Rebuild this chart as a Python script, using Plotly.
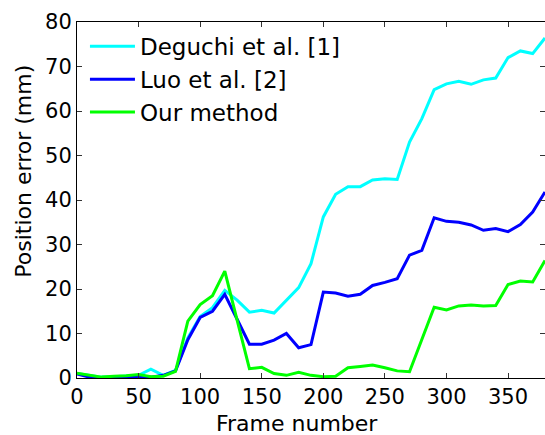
import plotly.graph_objects as go

frames = list(range(0, 381, 10))

deguchi = [1.0, 0.6, 0.2, 0.3, 0.4, 0.6, 2.0, 0.6, 1.7, 9.0, 13.8, 15.8, 19.7, 17.5, 14.8, 15.2,
           14.6, 17.4, 20.3, 25.7, 36.2, 41.3, 43.0, 43.0, 44.5, 44.8, 44.6, 53.0, 58.3, 64.8,
           66.1, 66.7, 66.0, 67.0, 67.4, 72.0, 73.5, 72.9, 76.4]
luo = [0.9, 0.2, 0.0, 0.1, 0.1, 0.1, 0.2, 0.6, 1.6, 8.6, 13.6, 15.0, 18.8, 13.2, 7.6, 7.6,
       8.5, 10.0, 6.8, 7.5, 19.3, 19.1, 18.4, 18.8, 20.8, 21.5, 22.3, 27.6, 28.7, 36.0,
       35.2, 35.0, 34.4, 33.2, 33.6, 32.9, 34.5, 37.3, 41.8]
ours = [1.1, 0.7, 0.2, 0.4, 0.5, 0.8, 0.3, 0.4, 1.5, 12.8, 16.5, 18.5, 24.0, 13.0, 2.1, 2.4,
        1.0, 0.6, 1.3, 0.6, 0.3, 0.4, 2.3, 2.6, 2.9, 2.3, 1.6, 1.4, 8.6, 15.9,
        15.3, 16.2, 16.4, 16.2, 16.3, 21.0, 21.8, 21.6, 26.4]

series = [("Deguchi et al. [1]", deguchi, "#00FFFF"),
          ("Luo et al. [2]", luo, "#0000FF"),
          ("Our method", ours, "#00FF00")]

x_ticks = [0, 50, 100, 150, 200, 250, 300, 350]
y_ticks = [0, 10, 20, 30, 40, 50, 60, 70, 80]
x_title = "Frame number"
y_title = "Position error (mm)"

fig = go.Figure()
for name, vals, col in series:
    fig.add_trace(go.Scatter(x=frames, y=vals, mode="lines", name=name,
                             line=dict(color=col, width=3)))

font = "DejaVu Sans, sans-serif"
fig.update_layout(
    width=545, height=435,
    margin=dict(l=77, r=0, t=22, b=57),
    plot_bgcolor="white", paper_bgcolor="white",
    font=dict(family=font, color="black"),
    showlegend=True,
    legend=dict(x=0.017, y=0.992, xanchor="left", yanchor="top",
                bgcolor="rgba(0,0,0,0)", font=dict(size=23, family=font),
                tracegroupgap=0, itemwidth=45),
    xaxis=dict(range=[0, 380], tickvals=x_ticks, ticks="inside", ticklen=5,
               tickcolor="#333", showline=True, linecolor="black", linewidth=1,
               mirror="ticks", showgrid=False, zeroline=False,
               tickfont=dict(size=21)),
    yaxis=dict(range=[0, 80], tickvals=y_ticks, ticks="inside", ticklen=5,
               tickcolor="#333", showline=True, linecolor="black", linewidth=1,
               mirror="ticks", showgrid=False, zeroline=False,
               tickfont=dict(size=21)),
    annotations=[
        dict(text=x_title, xref="paper", yref="paper", x=0.47, y=-0.127,
             xanchor="center", yanchor="middle", showarrow=False, font=dict(size=22)),
        dict(text=y_title, xref="paper", yref="paper", x=-0.115, y=0.58,
             xanchor="center", yanchor="middle", textangle=-90, showarrow=False,
             font=dict(size=22)),
    ],
)

fig.write_html("out.html")
